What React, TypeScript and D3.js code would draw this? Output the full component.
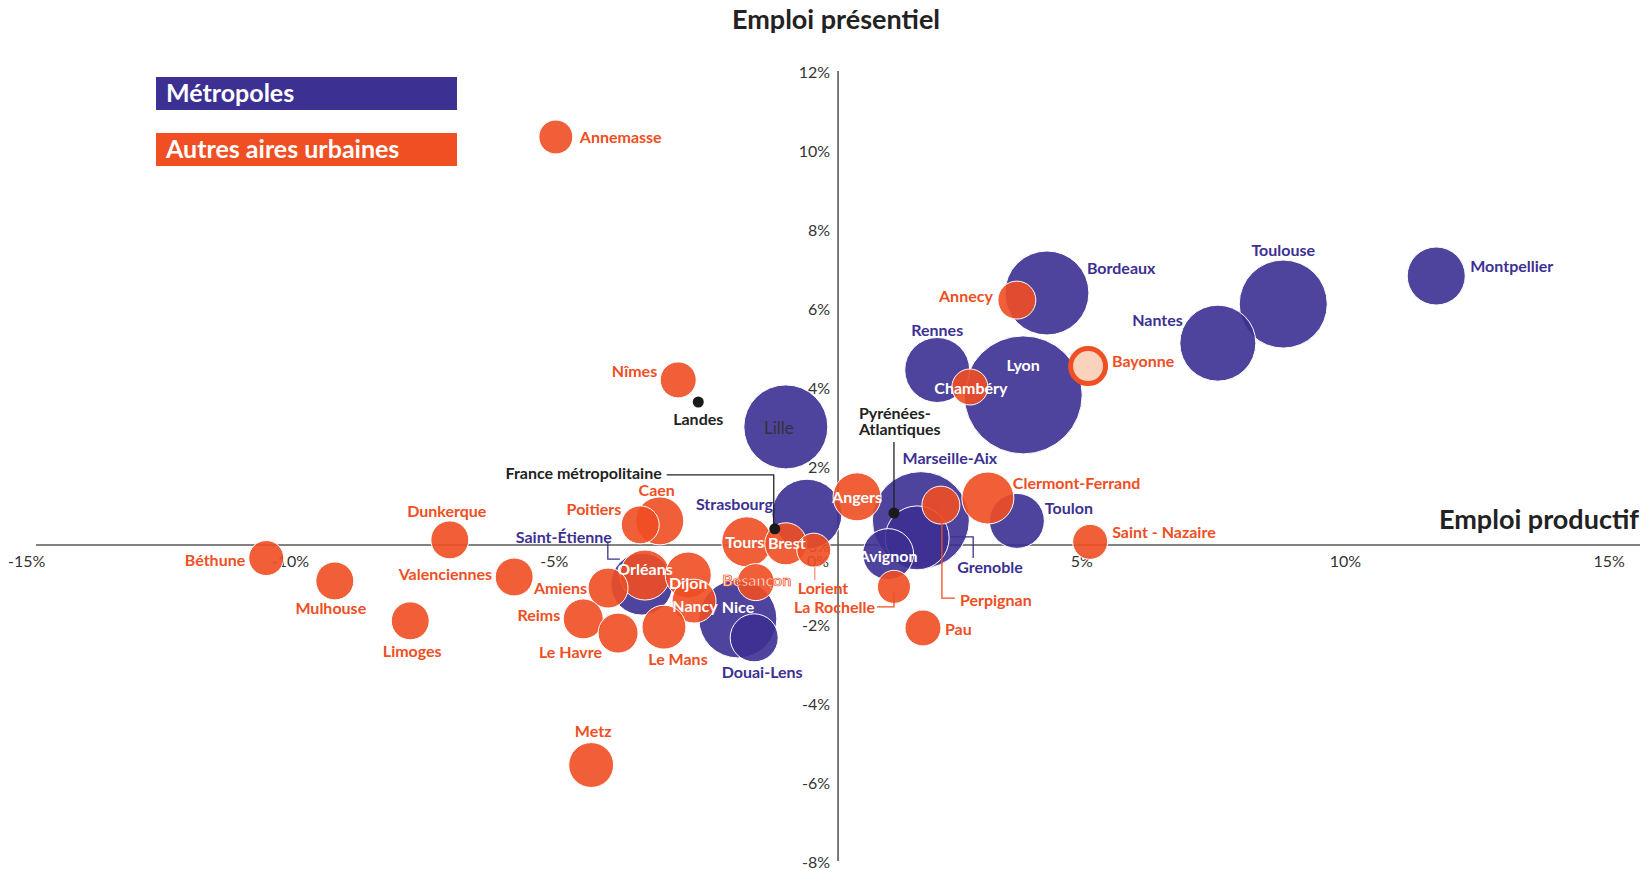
import React from "react";
import * as d3 from "d3";

// ---------- DATA ----------
// Métropoles : évolution de l'emploi productif (x, %) et présentiel (y, %), poids (taille de bulle)
const metroNames = ["Lyon", "Marseille-Aix", "Toulouse", "Bordeaux", "Lille", "Nice", "Nantes", "Strasbourg", "Rennes", "Grenoble", "Saint-Étienne", "Montpellier", "Toulon", "Avignon", "Douai-Lens"];
const metroProductif = [3.89, 1.95, 8.82, 4.34, -0.61, -1.52, 7.58, -0.21, 2.26, 1.88, -3.34, 11.72, 3.77, 1.33, -1.21];
const metroPresentiel = [3.8, 0.63, 6.1, 6.38, 2.99, -1.87, 5.11, 0.78, 4.43, 0.18, -0.99, 6.81, 0.61, -0.23, -2.35];
const metroPoids = [96.7, 65.3, 53.8, 49, 49, 42.3, 40.1, 34, 29.3, 28.4, 26.7, 23.4, 21, 18, 16];

// Autres aires urbaines
const autresNames = ["Clermont-Ferrand", "Tours", "Orléans", "Angers", "Caen", "Dijon", "Metz", "Nancy", "Le Mans", "Brest", "Amiens", "Reims", "Le Havre", "Bayonne", "Poitiers", "Perpignan", "Annecy", "Limoges", "Valenciennes", "Dunkerque", "Mulhouse", "Besançon", "Chambéry", "Pau", "Nîmes", "Saint - Nazaire", "Béthune", "Lorient", "Annemasse", "La Rochelle"];
const autresProductif = [3.22, -1.35, -3.28, 0.74, -3.0, -2.46, -4.3, -2.35, -2.92, -0.61, -3.98, -4.45, -3.79, 5.12, -3.37, 2.33, 3.77, -7.73, -5.76, -6.98, -9.16, -1.18, 2.88, 1.99, -2.65, 5.16, -10.46, -0.08, -4.97, 1.44];
const autresPresentiel = [1.19, 0.08, -0.76, 1.22, 0.61, -0.76, -5.57, -1.42, -2.08, 0.03, -1.09, -1.87, -2.23, 4.53, 0.51, 1.01, 6.2, -1.92, -0.81, 0.13, -0.91, -0.94, 4.0, -2.1, 4.18, 0.08, -0.33, -0.13, 10.33, -1.06];
const autresPoids = [18.8, 17.4, 17.4, 16, 16, 14.7, 14, 13.4, 13.4, 12.3, 11.1, 11.1, 11.1, 11.1, 10, 10, 10, 10, 10, 10, 10, 9.5, 9, 9, 9, 8.5, 8.5, 8, 8, 7.6];

// Repères (points noirs)
const repereNames = ["France métropolitaine", "Pyrénées-Atlantiques", "Landes"];
const repereProductif = [-0.82, 1.44, -2.27];
const reperePresentiel = [0.41, 0.81, 3.62];

const xTicks = [-15, -10, -5, 0, 5, 10, 15];
const yTicks = [-8, -6, -4, -2, 0, 2, 4, 6, 8, 10, 12];
const legendLabels = ["Métropoles", "Autres aires urbaines"];

// ---------- STYLE / LAYOUT ----------
const PURPLE = "#3C3092";
const ORANGE = "#F04E23";
const AXIS = "#595959";
const FONT = "Lato, 'Open Sans', sans-serif";
const LABEL_SIZE = 16;

type Lab = { dx: number; dy: number; anchor?: "start" | "middle" | "end"; kind?: string; leader?: [number, number][] };

// label offsets relative to bubble centre (px)
const labelLayout: Record<string, Lab> = {
  Lyon: { dx: 0, dy: -30, kind: "white" },
  "Marseille-Aix": { dx: 29, dy: -63 },
  Toulouse: { dx: 0, dy: -55 },
  Bordeaux: { dx: 40, dy: -25, anchor: "start" },
  Lille: { dx: -7, dy: 1, kind: "gray" },
  Nice: { dx: -16, dy: -12, anchor: "start", kind: "white" },
  Nantes: { dx: -35, dy: -24, anchor: "end" },
  Strasbourg: { dx: -34, dy: -11, anchor: "end" },
  Rennes: { dx: 0, dy: -41 },
  Grenoble: { dx: 40, dy: 29, anchor: "start", leader: [[33, -1], [56, -1], [56, 20]] },
  "Saint-Étienne": { dx: -30, dy: -48, anchor: "end", leader: [[-34, -41], [-34, -25], [-22, -25]] },
  Montpellier: { dx: 34, dy: -11, anchor: "start" },
  Toulon: { dx: 28, dy: -13, anchor: "start" },
  Avignon: { dx: 0, dy: 1, kind: "white" },
  "Douai-Lens": { dx: 8, dy: 34 },

  "Clermont-Ferrand": { dx: 25, dy: -15, anchor: "start" },
  Tours: { dx: -2, dy: 0, kind: "white" },
  Orléans: { dx: 0, dy: -7, kind: "white" },
  Angers: { dx: 0, dy: 0, kind: "white" },
  Caen: { dx: -3, dy: -31 },
  Dijon: { dx: 0, dy: 7, kind: "white" },
  Metz: { dx: 2, dy: -35 },
  Nancy: { dx: 1, dy: 4, kind: "white" },
  "Le Mans": { dx: 14, dy: 31 },
  Brest: { dx: 1, dy: -1, kind: "white" },
  Amiens: { dx: -21, dy: -1, anchor: "end" },
  Reims: { dx: -23, dy: -4, anchor: "end" },
  "Le Havre": { dx: -16, dy: 18, anchor: "end" },
  Bayonne: { dx: 24, dy: -6, anchor: "start" },
  Poitiers: { dx: -19, dy: -16, anchor: "end" },
  Perpignan: { dx: 19, dy: 94, anchor: "start", leader: [[1, 2], [1, 93], [14, 93]] },
  Annecy: { dx: -24, dy: -5, anchor: "end" },
  Limoges: { dx: 2, dy: 30 },
  Valenciennes: { dx: -22, dy: -3, anchor: "end" },
  Dunkerque: { dx: -3, dy: -29 },
  Mulhouse: { dx: -4, dy: 27 },
  "Besançon": { dx: 1, dy: -3, kind: "outline" },
  "Chambéry": { dx: 1, dy: 0, kind: "white" },
  Pau: { dx: 22, dy: 1, anchor: "start" },
  "Nîmes": { dx: -21, dy: -9, anchor: "end" },
  "Saint - Nazaire": { dx: 22, dy: -10, anchor: "start" },
  "Béthune": { dx: -21, dy: 1, anchor: "end" },
  Lorient: { dx: -16, dy: 37, anchor: "start", leader: [[1, 17], [1, 30]] },
  Annemasse: { dx: 24, dy: 0, anchor: "start" },
  "La Rochelle": { dx: -19, dy: 20, anchor: "end", leader: [[0, 6], [0, 20], [-17, 20]] },

  "France métropolitaine": { dx: -113, dy: -56, anchor: "end", leader: [[-108, -54], [-1, -54], [-1, -2]] },
  Landes: { dx: 0, dy: 16 },
};

export default function App() {
  const W = 1648, H = 870;
  const x = d3.scaleLinear().domain([-15, 15]).range([818 - 15 * 52.75, 818 + 15 * 52.75]);
  const y = d3.scaleLinear().domain([-8, 12]).range([861, 71]);
  const r = d3.scaleSqrt().domain([0, 100]).range([0, 60]);
  const yAxisCross = 0.38;
  const line = d3.line<[number, number]>();

  const metro = metroNames.map((n, i) => ({ name: n, cx: x(metroProductif[i]), cy: y(metroPresentiel[i]), rr: r(metroPoids[i]) }));
  const autres = autresNames.map((n, i) => ({ name: n, cx: x(autresProductif[i]), cy: y(autresPresentiel[i]), rr: r(autresPoids[i]) }));
  const reperes = repereNames.map((n, i) => ({ name: n, cx: x(repereProductif[i]), cy: y(reperePresentiel[i]) }));

  const labelFor = (d: { name: string; cx: number; cy: number }, base: string) => {
    const L = labelLayout[d.name];
    if (!L) return null;
    let fill = base;
    let stroke: string | undefined;
    let sw = 0;
    let weight: number = 700;
    if (L.kind === "white") fill = "#ffffff";
    if (L.kind === "gray") { fill = "#333333"; weight = 400; }
    if (L.kind === "outline") { fill = "#fde6dd"; stroke = ORANGE; sw = 0.7; }
    return (
      <g key={"l" + d.name}>
        {L.leader && (
          <path d={line(L.leader.map(([a, b]) => [d.cx + a, d.cy + b]) as [number, number][]) || ""}
            fill="none" stroke={d.name === "Lorient" ? "#F4907A" : base} strokeWidth={1.3} />
        )}
        <text x={d.cx + L.dx} y={d.cy + L.dy} textAnchor={L.anchor || "middle"} dominantBaseline="central"
          fill={fill} stroke={stroke} strokeWidth={sw} fontWeight={weight} fontSize={L.kind === "gray" ? 17 : LABEL_SIZE} fontFamily={FONT}>
          {d.name}
        </text>
      </g>
    );
  };

  const pa = reperes[1];

  return (
    <svg width={W} height={H} style={{ position: "absolute", left: 0, top: 0, background: "#fff" }} fontFamily={FONT}>
      {/* titles */}
      <text x={836} y={29} textAnchor="middle" fontSize={27} fontWeight={700} fill="#222">Emploi présentiel</text>
      <text x={1639} y={529} textAnchor="end" fontSize={27} fontWeight={700} fill="#222">Emploi productif</text>

      {/* legend */}
      {legendLabels.map((t, i) => (
        <g key={t}>
          <rect x={156} y={77 + i * 56} width={301} height={33} fill={i === 0 ? PURPLE : ORANGE} />
          <text x={166} y={102 + i * 56} fontSize={25} fontWeight={700} fill="#fff">{t}</text>
        </g>
      ))}

      {/* axes */}
      <line x1={36} x2={1640} y1={y(0)} y2={y(0)} stroke={AXIS} strokeWidth={1.6} />
      <line x1={x(yAxisCross)} x2={x(yAxisCross)} y1={y(12)} y2={y(-8)} stroke={AXIS} strokeWidth={1.6} />
      {yTicks.map((t) => (
        <text key={"y" + t} x={x(yAxisCross) - 8} y={y(t)} textAnchor="end" dominantBaseline="central" fontSize={16} fill="#333">{t}%</text>
      ))}
      {xTicks.map((t) => (
        <text key={"x" + t} x={x(t)} y={y(0) + 15} textAnchor="middle" dominantBaseline="central" fontSize={16} fill="#333">{t}%</text>
      ))}

      {/* bubbles */}
      {metro.map((d) => (
        <circle key={d.name} cx={d.cx} cy={d.cy} r={d.rr} fill={PURPLE} fillOpacity={0.9} stroke="#fff" strokeWidth={1} />
      ))}
      {autres.map((d) =>
        d.name === "Bayonne" ? (
          <circle key={d.name} cx={d.cx} cy={d.cy} r={d.rr - 2.5} fill="#FBD2BB" stroke={ORANGE} strokeWidth={5} />
        ) : (
          <circle key={d.name} cx={d.cx} cy={d.cy} r={d.rr} fill={ORANGE} fillOpacity={0.9} stroke="#fff" strokeWidth={1} />
        )
      )}

      {/* reference points */}
      <path d={line([[pa.cx, pa.cy - 71], [pa.cx, pa.cy]]) || ""} stroke="#222" strokeWidth={1.3} fill="none" />
      <text x={pa.cx - 35} y={pa.cy - 101} dominantBaseline="central" fontSize={LABEL_SIZE} fontWeight={700} fill="#222">Pyrénées-</text>
      <text x={pa.cx - 35} y={pa.cy - 85} dominantBaseline="central" fontSize={LABEL_SIZE} fontWeight={700} fill="#222">Atlantiques</text>
      {reperes.map((d) => labelFor(d, "#222"))}
      {reperes.map((d) => (
        <circle key={"r" + d.name} cx={d.cx} cy={d.cy} r={5.5} fill="#1a1a1a" />
      ))}

      {/* labels */}
      {metro.map((d) => labelFor(d, PURPLE))}
      {autres.map((d) => labelFor(d, ORANGE))}
    </svg>
  );
}
